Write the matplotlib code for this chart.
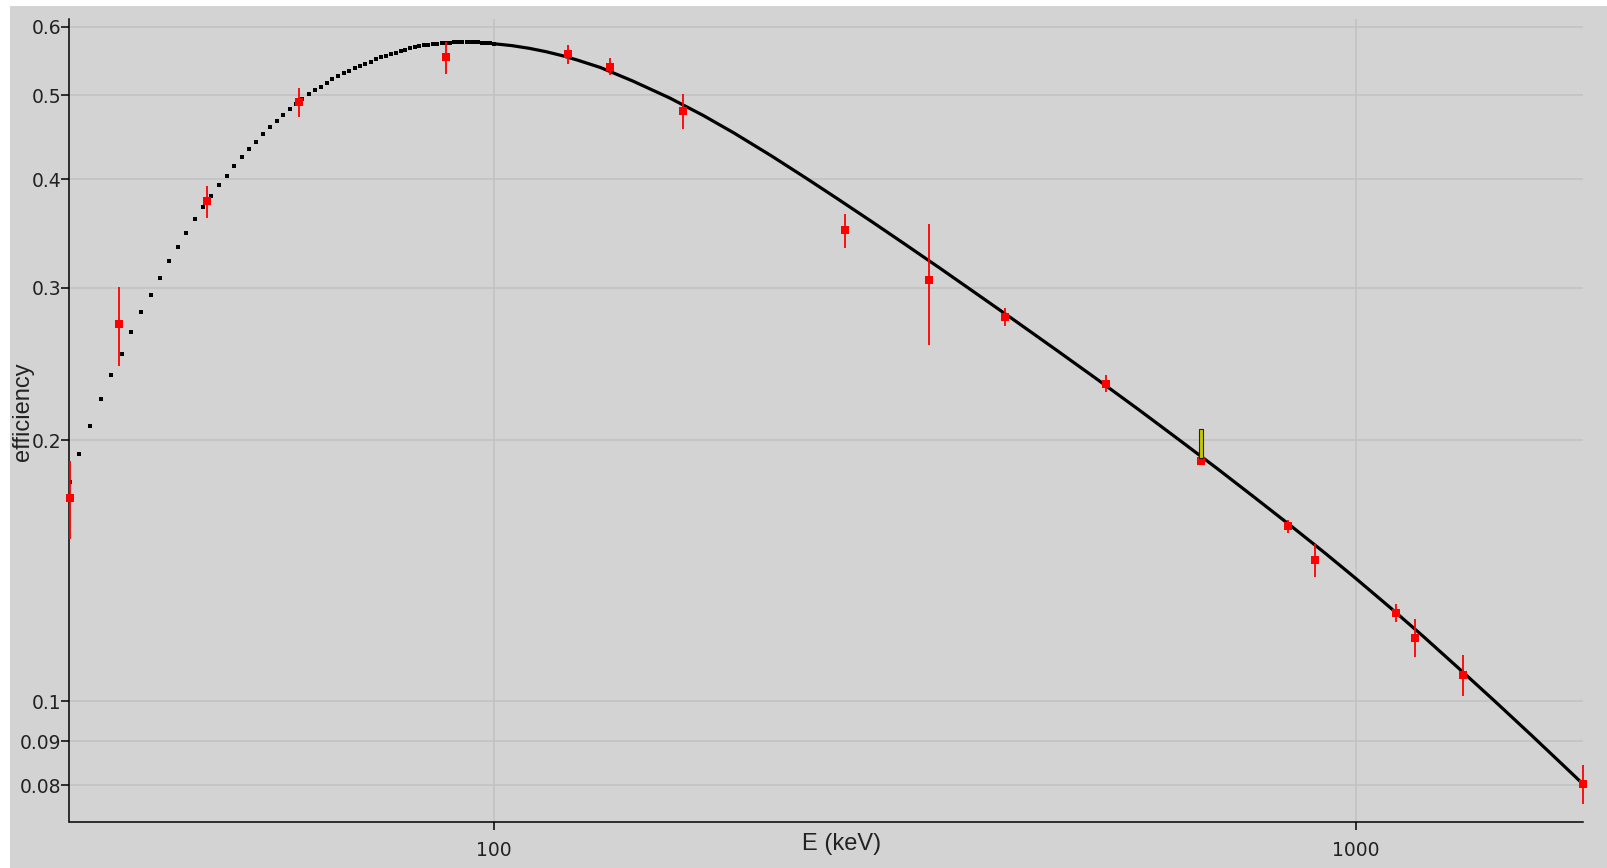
import numpy as np
import matplotlib.pyplot as plt
from matplotlib.patches import Rectangle
from matplotlib.ticker import FixedLocator, FixedFormatter, NullLocator

# measured full-energy peak efficiencies
energy = [32.2, 36.8, 46.5, 59.5, 88.0, 122.1, 136.5, 165.9, 255.5, 320.1,
          391.7, 514.0, 661.7, 834.8, 898.0, 1115.5, 1173.2, 1332.5, 1836.1]
eff = [0.1717, 0.2721, 0.3773, 0.4909, 0.5531, 0.5576, 0.5396, 0.4797, 0.3494, 0.3064,
       0.2777, 0.2325, 0.1893, 0.1592, 0.1455, 0.1265, 0.1185, 0.1073, 0.0803]
eff_err = [0.0177, 0.0283, 0.0162, 0.0194, 0.0233, 0.0145, 0.0125, 0.0225, 0.0157, 0.0489,
           0.0068, 0.0053, 0.0020, 0.0027, 0.0064, 0.0031, 0.0060, 0.0058, 0.0041]

# fitted curve, one point per keV below 100 keV
fit_lo_E = [32.2, 33, 34, 35, 36, 37, 38, 39, 40, 41, 42, 43, 44, 45, 46, 47, 48, 49, 50,
            51, 52, 53, 54, 55, 56, 57, 58, 59, 60, 61, 62, 63, 64, 65, 66, 67, 68, 69, 70,
            71, 72, 73, 74, 75, 76, 77, 78, 79, 80, 81, 82, 83, 84, 85, 86, 87, 88, 89, 90,
            91, 92, 93, 94, 95, 96, 97, 98, 99, 100]
fit_lo_eff = [0.1790, 0.1931, 0.2079, 0.2230, 0.2381, 0.2519, 0.2669, 0.2814, 0.2945, 0.3080,
              0.3222, 0.3344, 0.3471, 0.3600, 0.3720, 0.3827, 0.3940, 0.4039, 0.4142, 0.4242,
              0.4333, 0.4420, 0.4508, 0.4593, 0.4674, 0.4745, 0.4826, 0.4884, 0.4950, 0.5020,
              0.5070, 0.5117, 0.5170, 0.5218, 0.5260, 0.5303, 0.5340, 0.5378, 0.5410, 0.5440,
              0.5470, 0.5500, 0.5530, 0.5557, 0.5580, 0.5602, 0.5623, 0.5644, 0.5664, 0.5683,
              0.5700, 0.5712, 0.5720, 0.5725, 0.5730, 0.5740, 0.5750, 0.5752, 0.5754, 0.5756,
              0.5757, 0.5758, 0.5758, 0.5757, 0.5755, 0.5752, 0.5748, 0.5742, 0.5735]

# fitted curve above 100 keV (points are dense enough to merge into a line)
fit_hi_E = [100, 105, 110, 115, 120, 125, 133, 145, 160, 175, 190, 210, 230, 250, 275,
            300, 330, 360, 400, 450, 500, 560, 620, 690, 760, 840, 920, 1000, 1100, 1200,
            1320, 1450, 1600, 1720, 1836.1]
fit_hi_eff = [0.5735, 0.5706, 0.5665, 0.5615, 0.5557, 0.5492, 0.5384, 0.5194, 0.4966, 0.4741,
              0.4525, 0.4258, 0.4018, 0.3805, 0.3572, 0.3368, 0.3156, 0.2971, 0.2761, 0.2541,
              0.2357, 0.2171, 0.2013, 0.1858, 0.1725, 0.1596, 0.1485, 0.1387, 0.1280, 0.1187,
              0.1090, 0.1001, 0.0914, 0.0854, 0.0803]

# selected peak marker
sel_E = 661.7
sel_lo = 0.191
sel_hi = 0.206

xticks = [100, 1000]
xtick_labels = ['100', '1000']
yticks = [0.08, 0.09, 0.1, 0.2, 0.3, 0.4, 0.5, 0.6]
ytick_labels = ['0.08', '0.09', '0.1', '0.2', '0.3', '0.4', '0.5', '0.6']

bg = '#d3d3d3'
W, H = 1608, 868

fig = plt.figure(figsize=(W / 100, H / 100), dpi=100, facecolor='white')
# grey panel behind everything, leaving a thin white margin top and left
fig.add_artist(Rectangle((10 / W, 0), 1, 1 - 6 / H, transform=fig.transFigure,
                         facecolor=bg, edgecolor='none', zorder=-5))

ax = fig.add_axes([69.5 / W, (H - 822) / H, (1583 - 69.5) / W, (822 - 19) / H], facecolor=bg)
ax.set_xscale('log')
ax.set_yscale('log')

# fit curve
ax.plot(fit_lo_E, fit_lo_eff, 's', color='black', ms=2.2, mew=0, zorder=2)
ax.plot(fit_hi_E, fit_hi_eff, '-', color='black', lw=2.3, zorder=2)

# data with error bars
lo = np.array(eff) - np.array(eff_err)
hi = np.array(eff) + np.array(eff_err)
ax.vlines(energy, lo, hi, color='red', lw=1.3, zorder=3, clip_on=False)
ax.plot(energy, eff, 's', color='red', ms=5.8, mew=0, zorder=3, clip_on=False)

# yellow marker above the selected point
ax.bar(sel_E, sel_hi - sel_lo, bottom=sel_lo, width=sel_E * 0.009,
       color='#c8c800', edgecolor='#222222', lw=0.8, zorder=4)

ax.set_xlim(32.2, 1836.1)
ax.set_ylim(0.0726, 0.6124)

ax.xaxis.set_major_locator(FixedLocator(xticks))
ax.xaxis.set_major_formatter(FixedFormatter(xtick_labels))
ax.xaxis.set_minor_locator(NullLocator())
ax.yaxis.set_major_locator(FixedLocator(yticks))
ax.yaxis.set_major_formatter(FixedFormatter(ytick_labels))
ax.yaxis.set_minor_locator(NullLocator())

ax.grid(True, color='#c2c2c2', lw=1.1)
ax.set_axisbelow(True)
for s in ['top', 'right']:
    ax.spines[s].set_visible(False)
for s in ['left', 'bottom']:
    ax.spines[s].set_color('black')
    ax.spines[s].set_linewidth(1.1)

ax.tick_params(axis='both', direction='out', length=6, width=1.1, color='black',
               labelsize=13.5, labelcolor='#222222')
ax.tick_params(axis='y', pad=0)
ax.tick_params(axis='x', pad=8)

ax.set_xlabel('E (keV)', fontsize=17, family='Liberation Sans', color='#222222')
ax.xaxis.set_label_coords(0.5098, -0.014)
ax.set_ylabel('efficiency', fontsize=17, family='Liberation Sans', color='#222222')
ax.yaxis.set_label_coords(-0.0235, 0.511)

fig.savefig('out.png', dpi=100, facecolor='white')
